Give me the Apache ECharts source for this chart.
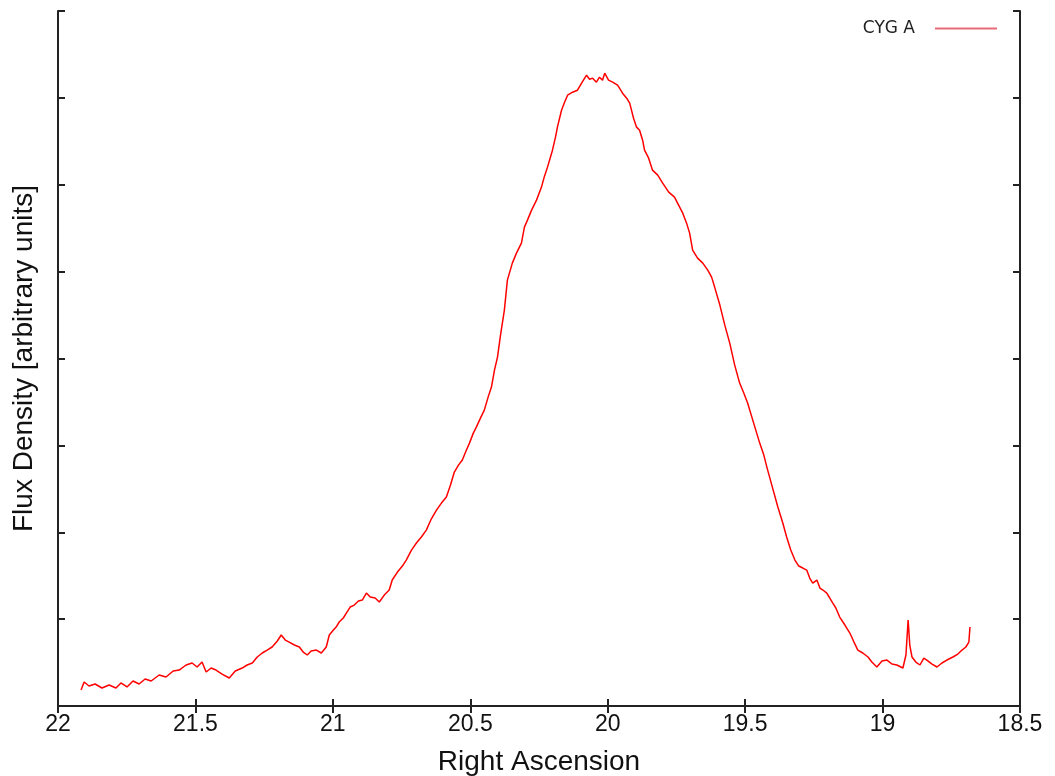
<!DOCTYPE html>
<html>
<head>
<meta charset="utf-8">
<title>CYG A</title>
<script src="https://cdn.jsdelivr.net/npm/echarts@6/dist/echarts.min.js"></script>
<style>
  html, body { margin: 0; padding: 0; background: #fff; }
  #main { width: 1055px; height: 776px; }
</style>
</head>
<body>
<div id="main"></div>
<script>
// 赤经 (小时)
var raValues = [
	21.916, 21.905, 21.887, 21.865, 21.840, 21.814, 21.789, 21.771, 21.749, 21.727,
	21.705, 21.683, 21.661, 21.632, 21.607, 21.581, 21.559, 21.534, 21.512, 21.494,
	21.476, 21.461, 21.443, 21.425, 21.403, 21.377, 21.355, 21.330, 21.312, 21.293,
	21.275, 21.257, 21.239, 21.221, 21.202, 21.188, 21.173, 21.159, 21.140, 21.122,
	21.108, 21.093, 21.079, 21.060, 21.042, 21.024, 21.013, 20.998, 20.988, 20.977,
	20.962, 20.951, 20.937, 20.922, 20.907, 20.893, 20.878, 20.864, 20.846, 20.831,
	20.813, 20.795, 20.784, 20.765, 20.747, 20.733, 20.714, 20.696, 20.678, 20.660,
	20.642, 20.623, 20.605, 20.587, 20.572, 20.558, 20.543, 20.529, 20.514, 20.503,
	20.489, 20.478, 20.463, 20.449, 20.434, 20.423, 20.412, 20.401, 20.390, 20.376,
	20.365, 20.347, 20.332, 20.314, 20.303, 20.292, 20.277, 20.259, 20.241, 20.230,
	20.219, 20.201, 20.190, 20.183, 20.168, 20.157, 20.146, 20.128, 20.110, 20.095,
	20.077, 20.066, 20.055, 20.041, 20.030, 20.019, 20.011, 19.997, 19.982, 19.964,
	19.946, 19.931, 19.920, 19.906, 19.895, 19.884, 19.873, 19.866, 19.851, 19.837,
	19.818, 19.800, 19.778, 19.757, 19.742, 19.727, 19.713, 19.702, 19.691, 19.673,
	19.654, 19.636, 19.622, 19.611, 19.592, 19.574, 19.556, 19.538, 19.520, 19.505,
	19.491, 19.469, 19.447, 19.432, 19.421, 19.403, 19.381, 19.363, 19.349, 19.334,
	19.319, 19.305, 19.290, 19.276, 19.265, 19.254, 19.239, 19.228, 19.217, 19.203,
	19.192, 19.181, 19.170, 19.156, 19.137, 19.119, 19.104, 19.090, 19.072, 19.053,
	19.039, 19.021, 19.002, 18.984, 18.966, 18.948, 18.926, 18.915, 18.907, 18.901,
	18.893, 18.879, 18.864, 18.850, 18.839, 18.820, 18.802, 18.784, 18.766, 18.744,
	18.726, 18.711, 18.697, 18.686, 18.682
];
// 流量密度 (任意单位)
var fluxValues = [
	0.184, 0.276, 0.230, 0.253, 0.207, 0.242, 0.207, 0.265, 0.219, 0.288,
	0.253, 0.311, 0.288, 0.357, 0.334, 0.403, 0.414, 0.472, 0.495, 0.449,
	0.506, 0.391, 0.437, 0.414, 0.368, 0.322, 0.403, 0.437, 0.472, 0.495,
	0.564, 0.610, 0.644, 0.679, 0.748, 0.817, 0.759, 0.736, 0.702, 0.679,
	0.621, 0.587, 0.633, 0.644, 0.610, 0.679, 0.817, 0.875, 0.909, 0.967,
	1.013, 1.070, 1.139, 1.162, 1.208, 1.220, 1.300, 1.254, 1.243, 1.197,
	1.277, 1.335, 1.450, 1.542, 1.611, 1.680, 1.795, 1.876, 1.945, 2.025,
	2.152, 2.255, 2.336, 2.405, 2.543, 2.693, 2.773, 2.831, 2.946, 3.026,
	3.141, 3.210, 3.314, 3.406, 3.567, 3.671, 3.866, 4.016, 4.269, 4.557,
	4.902, 5.098, 5.213, 5.328, 5.512, 5.593, 5.708, 5.823, 5.973, 6.099,
	6.203, 6.398, 6.548, 6.663, 6.858, 6.950, 7.031, 7.065, 7.088, 7.169,
	7.261, 7.215, 7.227, 7.181, 7.238, 7.204, 7.284, 7.204, 7.181, 7.146,
	7.054, 6.996, 6.939, 6.766, 6.663, 6.628, 6.513, 6.398, 6.306, 6.168,
	6.111, 6.018, 5.915, 5.857, 5.765, 5.673, 5.558, 5.443, 5.247, 5.155,
	5.098, 5.017, 4.937, 4.822, 4.615, 4.384, 4.177, 3.924, 3.717, 3.602,
	3.487, 3.256, 3.026, 2.888, 2.750, 2.543, 2.290, 2.106, 1.945, 1.795,
	1.680, 1.611, 1.588, 1.565, 1.473, 1.415, 1.450, 1.358, 1.335, 1.300,
	1.243, 1.185, 1.128, 1.024, 0.932, 0.840, 0.736, 0.644, 0.610, 0.564,
	0.506, 0.449, 0.518, 0.529, 0.483, 0.472, 0.437, 0.587, 0.990, 0.702,
	0.564, 0.506, 0.472, 0.552, 0.529, 0.483, 0.449, 0.495, 0.529, 0.564,
	0.598, 0.644, 0.679, 0.736, 0.909
];
var xMin = 18.5, xMax = 22, xStep = 0.5;
var yMin = 0, yMax = 8, yStep = 1;

var seriesData = [];
for (var i = 0; i < raValues.length; i++) {
	seriesData.push([raValues[i], fluxValues[i]]);
}

var axisColor = '#222';
var fontName = 'Liberation Sans, Arial, sans-serif';

var myChart = echarts.init(document.getElementById('main'));
var option = {
	backgroundColor: '#fff',
	animation: false,
	grid: {
		left: 58,
		right: 35,
		top: 11,
		bottom: 70,
		containLabel: false,
		outerBoundsMode: 'none'
	},
	legend: {
		right: 58,
		top: 20,
		padding: 0,
		align: 'right',
		itemWidth: 62,
		itemHeight: 2,
		itemGap: 10,
		textStyle: {
			fontFamily: 'DejaVu Sans, sans-serif',
			fontSize: 17,
			color: '#222',
			padding: [0, 15, 0, 0]
		},
		data: [{ name: 'CYG A', icon: 'rect', itemStyle: { color: '#e86a78' } }]
	},
	xAxis: [{
		type: 'value',
		min: xMin,
		max: xMax,
		interval: xStep,
		inverse: true,
		position: 'bottom',
		name: 'Right Ascension',
		nameLocation: 'middle',
		nameGap: 42,
		nameTextStyle: { fontFamily: fontName, fontSize: 28, color: '#111' },
		axisLine: { lineStyle: { color: axisColor, width: 2 } },
		axisTick: { inside: true, length: 7, lineStyle: { color: axisColor, width: 2 } },
		axisLabel: { fontFamily: fontName, fontSize: 23, color: '#111', margin: 7 },
		splitLine: { show: false }
	}, {
		type: 'value',
		min: xMin,
		max: xMax,
		interval: xStep,
		inverse: true,
		position: 'top',
		axisLine: { lineStyle: { color: axisColor, width: 2 } },
		axisTick: { inside: true, length: 7, lineStyle: { color: axisColor, width: 2 } },
		axisLabel: { show: false },
		splitLine: { show: false }
	}],
	yAxis: [{
		type: 'value',
		min: yMin,
		max: yMax,
		interval: yStep,
		position: 'left',
		name: 'Flux Density [arbitrary units]',
		nameLocation: 'middle',
		nameGap: 20,
		nameTextStyle: { fontFamily: fontName, fontSize: 28, color: '#111' },
		axisLine: { lineStyle: { color: axisColor, width: 2 } },
		axisTick: { inside: true, length: 7, lineStyle: { color: axisColor, width: 2 } },
		axisLabel: { show: false },
		splitLine: { show: false }
	}, {
		type: 'value',
		min: yMin,
		max: yMax,
		interval: yStep,
		position: 'right',
		axisLine: { lineStyle: { color: axisColor, width: 2 } },
		axisTick: { inside: true, length: 7, lineStyle: { color: axisColor, width: 2 } },
		axisLabel: { show: false },
		splitLine: { show: false }
	}],
	series: [{
		name: 'CYG A',
		type: 'line',
		xAxisIndex: 0,
		yAxisIndex: 0,
		showSymbol: false,
		symbol: 'none',
		lineStyle: { color: '#ff0000', width: 1.5 },
		itemStyle: { color: '#ff0000' },
		data: seriesData
	}]
};
myChart.setOption(option);
</script>
</body>
</html>
